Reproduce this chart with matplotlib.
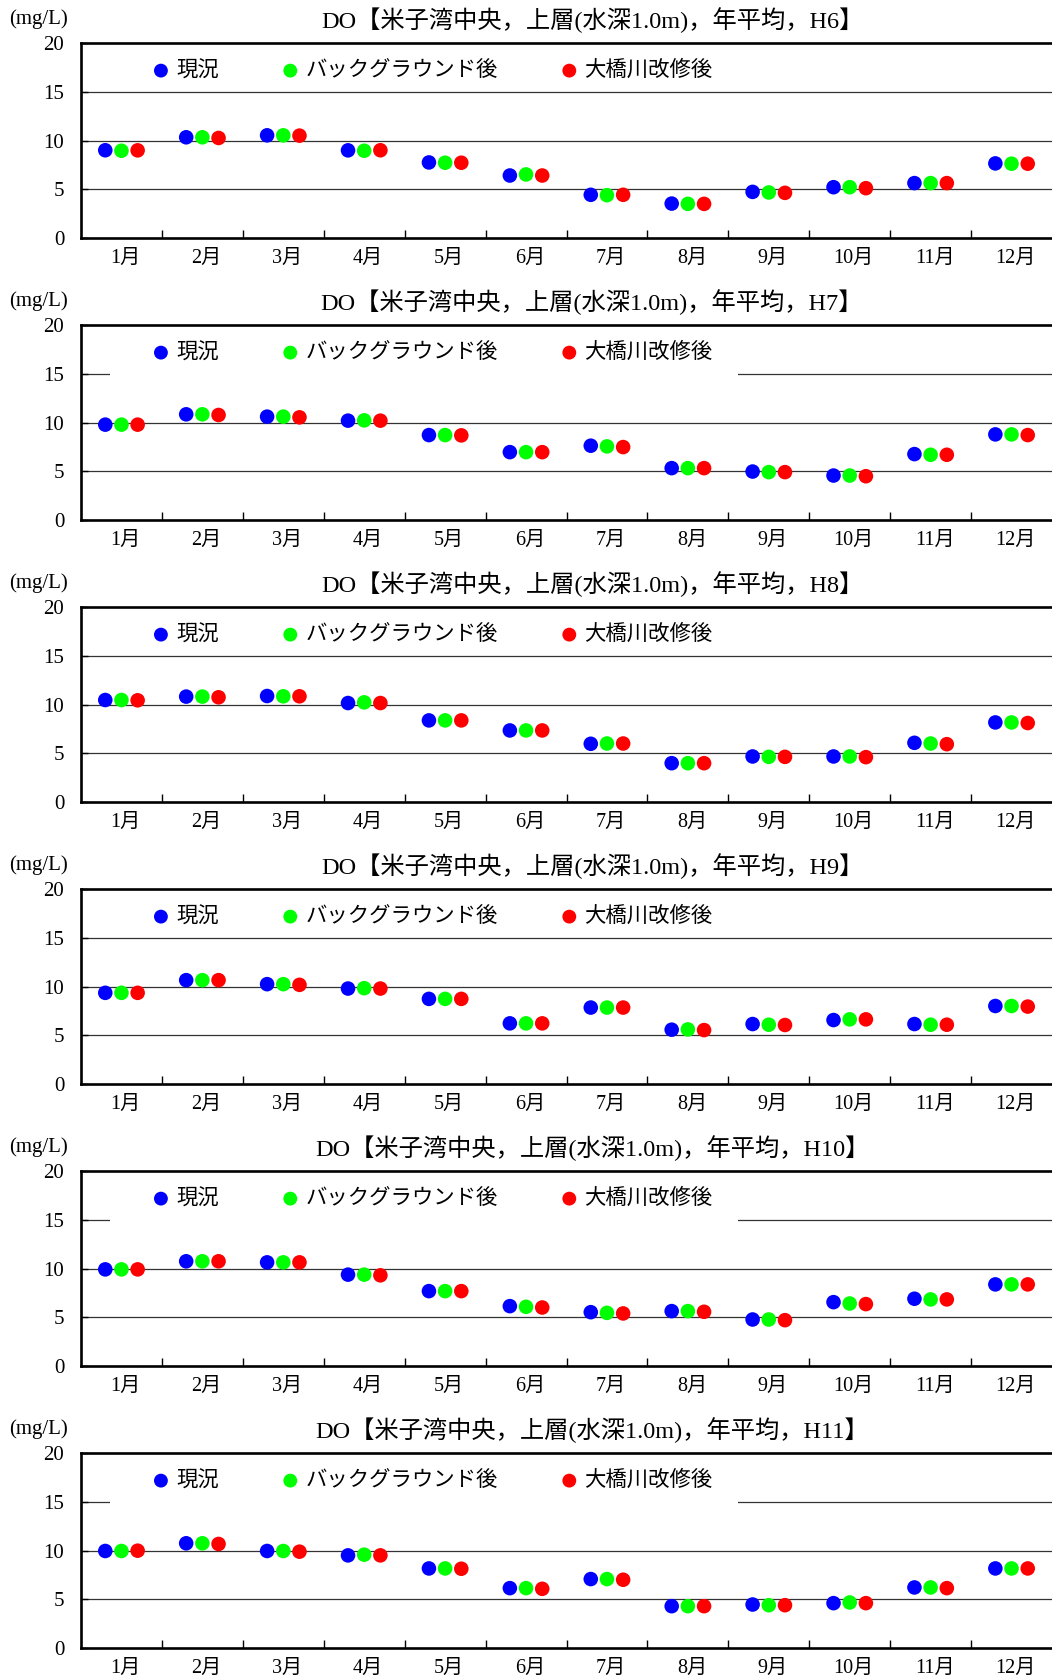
import numpy as np
import matplotlib.pyplot as plt
import matplotlib.transforms as mtransforms
from matplotlib.patches import Rectangle

plt.rcParams['font.family'] = ['Liberation Serif', 'Noto Sans CJK JP']
plt.rcParams['font.size'] = 14

months = ['1月', '2月', '3月', '4月', '5月', '6月', '7月', '8月', '9月', '10月', '11月', '12月']
years = ['H6', 'H7', 'H8', 'H9', 'H10', 'H11']
series_names = ['現況', 'バックグラウンド後', '大橋川改修後']
series_colors = ['#0000ff', '#00ff00', '#ff0000']

# 現況 / バックグラウンド後 / 大橋川改修後  (mg/L)
h6_now = [9.0, 10.33, 10.53, 8.99, 7.75, 6.41, 4.43, 3.53, 4.73, 5.21, 5.63, 7.65]
h6_bg = [8.95, 10.33, 10.53, 8.95, 7.72, 6.52, 4.39, 3.50, 4.67, 5.21, 5.63, 7.62]
h6_ohashi = [8.99, 10.26, 10.50, 9.0, 7.72, 6.41, 4.43, 3.50, 4.63, 5.11, 5.63, 7.62]

h7_now = [9.78, 10.84, 10.60, 10.19, 8.71, 6.96, 7.62, 5.32, 4.97, 4.56, 6.76, 8.78]
h7_bg = [9.78, 10.84, 10.60, 10.22, 8.71, 6.96, 7.55, 5.32, 4.91, 4.56, 6.69, 8.78]
h7_ohashi = [9.78, 10.77, 10.53, 10.19, 8.68, 6.96, 7.48, 5.32, 4.91, 4.49, 6.69, 8.71]

h8_now = [10.46, 10.81, 10.87, 10.15, 8.37, 7.34, 5.97, 3.98, 4.67, 4.67, 6.07, 8.16]
h8_bg = [10.46, 10.81, 10.84, 10.22, 8.37, 7.34, 6.0, 3.98, 4.63, 4.67, 6.0, 8.16]
h8_ohashi = [10.43, 10.74, 10.84, 10.15, 8.37, 7.34, 6.0, 3.98, 4.63, 4.60, 5.93, 8.10]

h9_now = [9.35, 10.65, 10.24, 9.79, 8.73, 6.22, 7.84, 5.57, 6.15, 6.56, 6.15, 8.0]
h9_bg = [9.35, 10.65, 10.24, 9.83, 8.73, 6.22, 7.84, 5.60, 6.08, 6.63, 6.08, 8.0]
h9_ohashi = [9.35, 10.65, 10.17, 9.79, 8.73, 6.22, 7.84, 5.53, 6.05, 6.63, 6.08, 7.94]

h10_now = [9.91, 10.74, 10.63, 9.37, 7.68, 6.14, 5.52, 5.63, 4.77, 6.55, 6.90, 8.37]
h10_bg = [9.91, 10.74, 10.63, 9.37, 7.68, 6.07, 5.45, 5.63, 4.77, 6.41, 6.83, 8.37]
h10_ohashi = [9.91, 10.74, 10.63, 9.30, 7.68, 6.0, 5.39, 5.56, 4.70, 6.35, 6.83, 8.37]

h11_now = [9.95, 10.74, 9.95, 9.50, 8.16, 6.14, 7.07, 4.29, 4.46, 4.60, 6.21, 8.16]
h11_bg = [9.95, 10.74, 9.95, 9.57, 8.16, 6.14, 7.07, 4.29, 4.39, 4.67, 6.21, 8.16]
h11_ohashi = [9.98, 10.67, 9.88, 9.50, 8.13, 6.07, 7.0, 4.29, 4.39, 4.60, 6.14, 8.16]

panels = [
    (h6_now, h6_bg, h6_ohashi),
    (h7_now, h7_bg, h7_ohashi),
    (h8_now, h8_bg, h8_ohashi),
    (h9_now, h9_bg, h9_ohashi),
    (h10_now, h10_bg, h10_ohashi),
    (h11_now, h11_bg, h11_ohashi),
]
# panels where the legend box hides the 15 mg/L line
legend_box = ['H7', 'H10', 'H11']

W, H = 1052, 1675
fig = plt.figure(figsize=(W / 100, H / 100), dpi=100)

x = np.arange(len(months))
offsets = [-0.2, 0.0, 0.2]
label_shift = mtransforms.ScaledTranslation(0.04, 0, fig.dpi_scale_trans)

for k, (year, vals) in enumerate(zip(years, panels)):
    top_px = 43 + 282 * k
    ax = fig.add_axes([81 / W, 1 - (top_px + 195) / H, 1 - 81 / W, 195 / H])
    ax.set_xlim(-0.5, 11.5)
    ax.set_ylim(0, 20)

    for yv in [5, 10, 15]:
        ax.axhline(yv, color='#333333', lw=0.9, zorder=1)
    if year in legend_box:
        ax.add_patch(Rectangle((0.03, 0.70), 0.647, 0.28, transform=ax.transAxes,
                               facecolor='white', edgecolor='none', zorder=1.5))

    for off, v, name, col in zip(offsets, vals, series_names, series_colors):
        ax.scatter(x + off, v, s=110, color=col, edgecolors='none', zorder=3, label=name)

    ax.spines['right'].set_visible(False)
    for s in ['left', 'top', 'bottom']:
        ax.spines[s].set_linewidth(1.9)

    ax.set_yticks([0, 5, 10, 15, 20])
    ax.tick_params(axis='y', direction='in', length=5, width=1, pad=12, labelsize=15)
    ax.set_xticks(np.arange(0.5, 11, 1))
    ax.set_xticklabels([])
    ax.tick_params(axis='x', which='major', direction='in', length=6, width=1)
    ax.set_xticks(x, minor=True)
    ax.set_xticklabels(months, minor=True)
    ax.tick_params(axis='x', which='minor', length=0, pad=8, labelsize=14.5)
    for lbl in ax.get_xticklabels(minor=True):
        lbl.set_transform(lbl.get_transform() + label_shift)

    ax.legend(loc='center left', bbox_to_anchor=(0.0735, 0.856), ncol=3, frameon=False,
              fontsize=15.4, handlelength=0.8, handletextpad=0.3, columnspacing=2.95,
              borderpad=0, borderaxespad=0, scatterpoints=1, markerscale=0.95)

    ax.text((592 - 81) / 971, 1 + 23 / 195,
            'DO【米子湾中央，上層(水深1.0m)，年平均，' + year + '】',
            transform=ax.transAxes, ha='center', va='center', fontsize=17.5)
    ax.text(-42 / 971, 1 + 24 / 195, '(mg/L)', transform=ax.transAxes,
            ha='center', va='center', fontsize=15)

fig.savefig('out.png', dpi=100)
